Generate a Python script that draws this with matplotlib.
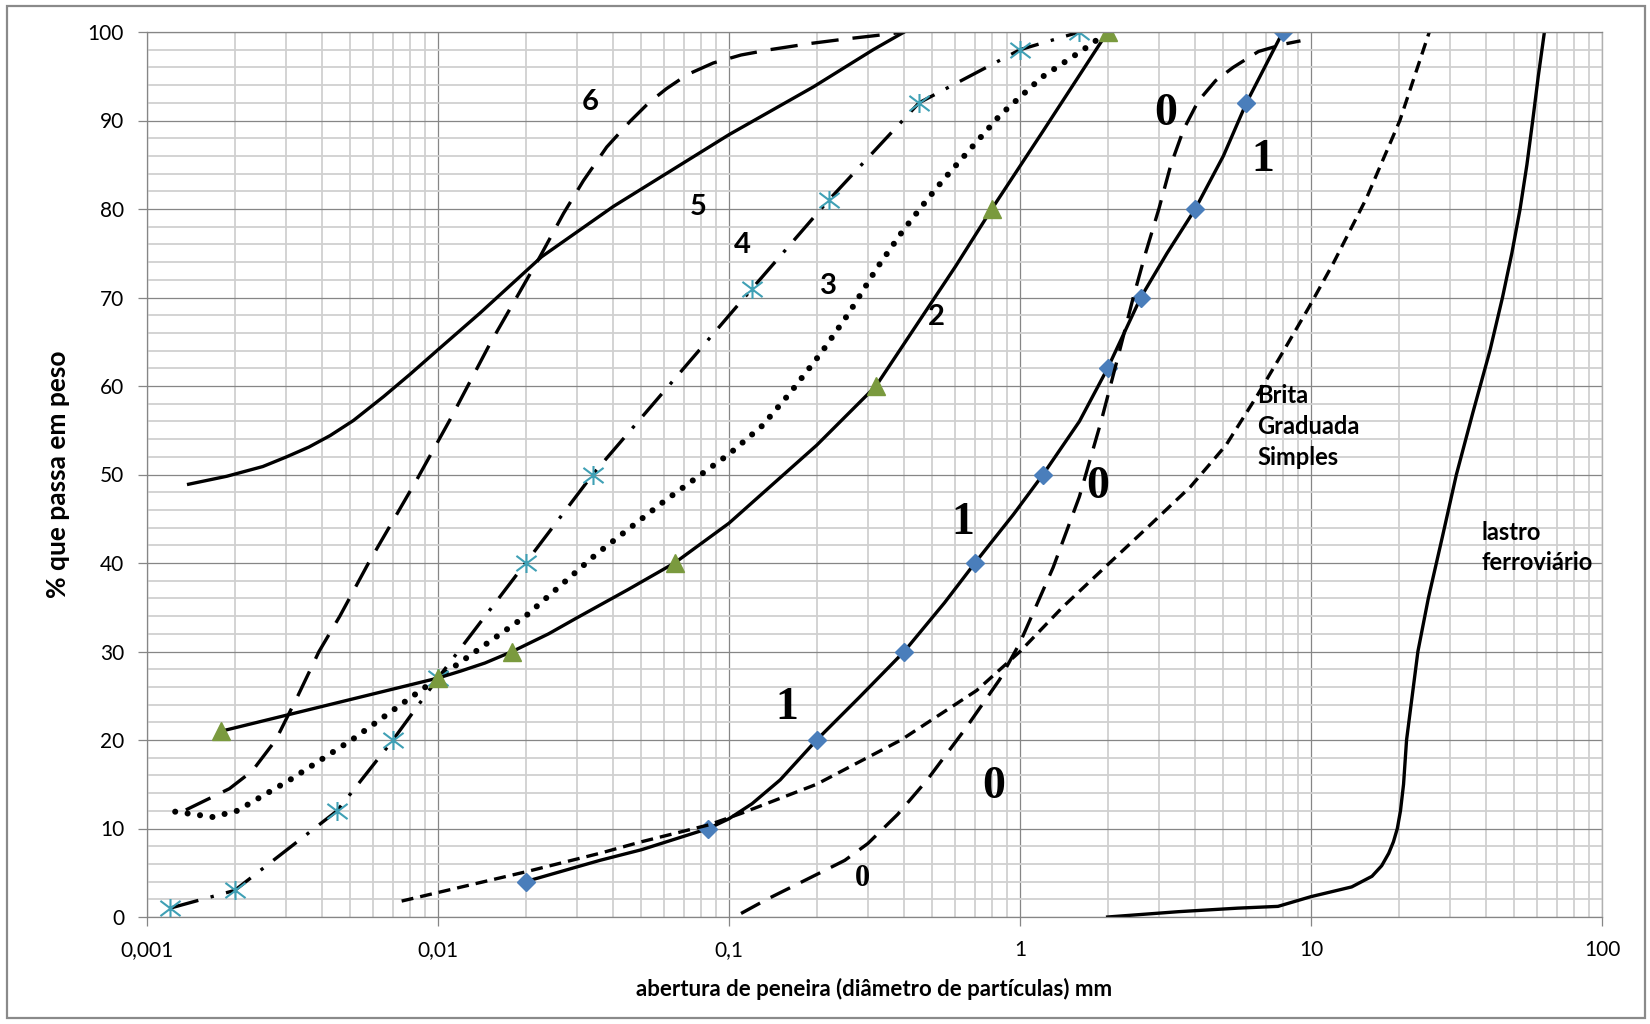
import numpy as np
import matplotlib.pyplot as plt
from matplotlib.path import Path
from matplotlib.patches import Rectangle
from matplotlib.ticker import FixedLocator, LogLocator, MultipleLocator, NullFormatter

plt.rcParams['font.family'] = ['Lato', 'DejaVu Sans']

#%% data (diameter mm, % passing)
# curve 6 - long dashes
c6_x = [0.00136, 0.00192, 0.0023, 0.00277, 0.0033, 0.0039, 0.0046, 0.00577, 0.00845,
        0.011, 0.0151, 0.0224, 0.027, 0.0316, 0.038, 0.0457, 0.053, 0.061, 0.072,
        0.0883, 0.11, 0.138, 0.19, 0.25, 0.32, 0.40]
c6_y = [12.1, 14.5, 16.5, 20.0, 25.0, 30.0, 34.0, 40.0, 49.4, 56.2, 64.8, 74.6, 79.5,
        83.2, 87.0, 89.9, 92.0, 93.6, 95.2, 96.5, 97.4, 98.0, 98.7, 99.2, 99.6, 100]

# curve 5 - solid
c5_x = [0.00139, 0.00188, 0.0025, 0.00302, 0.0036, 0.00426, 0.00512, 0.0065, 0.008,
        0.01, 0.0139, 0.0227, 0.0401, 0.1, 0.195, 0.313, 0.40]
c5_y = [48.9, 49.8, 50.9, 52.0, 53.1, 54.4, 56.1, 58.8, 61.3, 64.1, 68.2, 74.6, 80.3,
        88.4, 93.8, 98.0, 100]

# curve 4 - dash dot with asterisks
c4_x = [0.0012, 0.002, 0.0045, 0.007, 0.01, 0.02, 0.034, 0.12, 0.22, 0.45, 1.0, 1.6]
c4_y = [1, 3, 12, 20, 27, 40, 50, 71, 81, 92, 98, 100]

# curve 3 - dotted
c3_x = [0.00125, 0.00168, 0.00204, 0.0031, 0.0051, 0.0076, 0.01, 0.02, 0.035, 0.06,
        0.1, 0.13, 0.162, 0.208, 0.259, 0.322, 0.397, 0.478, 0.545, 0.854, 1.19, 1.65,
        1.91]
c3_y = [11.9, 11.3, 12.0, 15.5, 20.1, 24.2, 27.0, 34.0, 41.0, 47.0, 52.3, 55.5, 59.2,
        63.8, 68.3, 73.3, 77.6, 81.0, 83.3, 90.6, 94.9, 98.0, 99.5]

# curve 2 - solid, triangles
c2_x = [0.0018, 0.01, 0.012, 0.0145, 0.018, 0.024, 0.03, 0.045, 0.065, 0.1, 0.2,
        0.32, 0.46, 0.6, 0.8, 1.2, 2.0]
c2_y = [21, 27, 27.8, 28.7, 30, 32, 33.8, 37, 40, 44.5, 53.3, 60, 67.8, 73.5, 80,
        88.8, 100]
c2_mx = [0.0018, 0.01, 0.018, 0.065, 0.32, 0.8, 2.0]
c2_my = [21, 27, 30, 40, 60, 80, 100]

# curve 1 - solid, diamonds
c1_x = [0.02, 0.036, 0.05, 0.085, 0.1, 0.12, 0.15, 0.2, 0.28, 0.4, 0.55, 0.7, 0.95,
        1.2, 1.6, 2.0, 2.6, 3.2, 4.0, 5.0, 6.0, 8.0]
c1_y = [4, 6.4, 7.6, 10, 11.1, 12.8, 15.5, 20, 24.8, 30, 35.5, 40, 45.5, 50, 56, 62,
        70, 75, 80, 86, 92, 100]
c1_mx = [0.02, 0.085, 0.2, 0.4, 0.7, 1.2, 2.0, 2.6, 4.0, 6.0, 8.0]
c1_my = [4, 10, 20, 30, 40, 50, 62, 70, 80, 92, 100]

# curve 0 - dashed
c0_x = [0.11, 0.135, 0.2, 0.25, 0.3, 0.38, 0.48, 0.65, 0.85, 1.0, 1.3, 1.6, 1.9, 2.2,
        2.45, 2.7, 3.0, 3.3, 3.65, 4.1, 4.7, 5.4, 6.6, 8.0, 9.2]
c0_y = [0.4, 2.0, 4.8, 6.4, 8.3, 11.6, 15.5, 21.3, 26.8, 31, 39.5, 47.5, 56, 64, 70,
        75, 80, 85, 89, 92.2, 94.5, 96, 97.8, 98.6, 99]

# brita graduada simples - short dashes
bgs_x = [0.0075, 0.02, 0.036, 0.05, 0.085, 0.11, 0.2, 0.39, 0.71, 1.0, 1.4, 2.0, 2.8,
         3.85, 5.1, 6.5, 7.8, 9.8, 11.9, 15.5, 20.2, 25.5]
bgs_y = [1.8, 5.1, 7.2, 8.5, 10.4, 11.7, 15, 20, 25.6, 30, 35, 39.8, 44.3, 48.6, 53.3,
         58.8, 63.2, 68.8, 73.8, 81.2, 90, 100]

# lastro ferroviario - solid
lf_x = [2.0, 3.5, 5.6, 7.7, 10, 13.8, 16.2, 17.5, 18.5, 19.2, 19.8, 20.3, 20.8, 21.3,
        23.3, 25.3, 28.3, 31.6, 36.0, 41.2, 45.5, 49.0, 52.3, 55.2, 57.8, 60.4, 63.4]
lf_y = [0, 0.6, 1.0, 1.2, 2.3, 3.4, 4.6, 5.8, 7.2, 8.5, 10, 12, 15, 20, 30, 36, 43,
        50, 57, 64, 70, 75, 80, 85, 90, 95, 100]

xtick_vals = [0.001, 0.01, 0.1, 1, 10, 100]
xtick_labels = ['0,001', '0,01', '0,1', '1', '10', '100']
ytick_vals = list(range(0, 101, 10))

#%% figure
fig = plt.figure(figsize=(16.5, 10.24), dpi=100)
ax = fig.add_axes([147/1650, 1 - 917/1024, 1455/1650, 885/1024])
fig.patches.append(Rectangle((7/1650, 6/1024), 1638/1650, 1012/1024, transform=fig.transFigure,
                             fill=False, edgecolor='#8a8a8a', linewidth=1.6))

ax.set_xscale('log')
ax.set_xlim(0.001, 100)
ax.set_ylim(0, 100)

ax.xaxis.set_major_locator(FixedLocator(xtick_vals))
ax.set_xticklabels(xtick_labels)
ax.xaxis.set_minor_locator(LogLocator(base=10, subs=range(2, 10), numticks=20))
ax.xaxis.set_minor_formatter(NullFormatter())
ax.set_yticks(ytick_vals)
ax.yaxis.set_minor_locator(MultipleLocator(2))

ax.grid(which='minor', color='#d0d0d0', linewidth=1.3)
ax.grid(which='major', color='#868686', linewidth=0.9)
ax.set_axisbelow(True)
ax.tick_params(which='major', direction='out', length=6.5, width=0.9, color='#868686',
               labelsize=15, pad=10)
ax.tick_params(which='minor', length=0)
for s in ['left', 'bottom', 'top']:
    ax.spines[s].set_color('#868686')
    ax.spines[s].set_linewidth(0.9)
ax.spines['right'].set_color('#b0b0b0')
ax.spines['right'].set_linewidth(1.0)

# asterisk marker like excel's
star = Path([(0, -1), (0, 1), (-1.06, -0.8), (1.06, 0.8), (-1.06, 0.8), (1.06, -0.8)],
            [Path.MOVETO, Path.LINETO, Path.MOVETO, Path.LINETO, Path.MOVETO, Path.LINETO])

lw = 2.4
ax.plot(c6_x, c6_y, color='black', lw=lw, dashes=(8.2, 4.2))
ax.plot(c5_x, c5_y, color='black', lw=lw)
ax.plot(c3_x, c3_y, color='black', lw=4.4, dashes=(0.001, 2.05), dash_capstyle='round')
ax.plot(c4_x, c4_y, color='black', lw=lw, dashes=(8.8, 3.8, 1, 3.8))
ax.plot(c4_x, c4_y, ls='none', marker=star, ms=14.5, mew=1.5, mec='#3fa0b5')
ax.plot(c2_x, c2_y, color='black', lw=lw)
ax.plot(c2_mx, c2_my, ls='none', marker='^', ms=13, color='#7a9a3e', mec='#7a9a3e')
ax.plot(c1_x, c1_y, color='black', lw=lw)
ax.plot(c1_mx, c1_my, ls='none', marker='D', ms=9.5, color='#4a7ebb', mec='#4a7ebb')
ax.plot(c0_x, c0_y, color='black', lw=lw, dashes=(6.5, 3.6))
ax.plot(bgs_x, bgs_y, color='black', lw=lw, dashes=(3.6, 2.1))
ax.plot(lf_x, lf_y, color='black', lw=lw)

# curve numbers
for t, x, y in [('6', 0.0333, 92.1), ('5', 0.0785, 80.2), ('4', 0.1107, 75.9),
                ('3', 0.219, 71.3), ('2', 0.518, 67.8)]:
    ax.text(x, y, t, fontsize=21, fontweight='bold', ha='center', va='center')
for t, x, y, fs in [('1', 6.84, 85.5, 33), ('1', 0.637, 44.5, 33), ('1', 0.158, 23.6, 33),
                    ('0', 3.16, 90.7, 33), ('0', 1.85, 48.6, 33), ('0', 0.813, 14.7, 33),
                    ('0', 0.288, 4.4, 22)]:
    ax.text(x, y, t, fontsize=fs, fontweight='bold', family='Liberation Serif',
            ha='center', va='center')

ax.text(6.54, 60.25, 'Brita\nGraduada\nSimples', fontsize=17, fontweight='bold',
        ha='left', va='top', linespacing=1.42)
ax.text(38.6, 44.8, 'lastro\nferroviário', fontsize=17, fontweight='bold',
        ha='left', va='top', linespacing=1.42)

ax.set_xlabel('abertura de peneira (diâmetro de partículas) mm', fontsize=16,
              fontweight='bold')
ax.xaxis.set_label_coords(0.5, -0.0814)
ax.xaxis.label.set_va('center')
ax.set_ylabel('% que passa em peso', fontsize=19, fontweight='bold')
ax.yaxis.set_label_coords(-0.0612, 0.5)
ax.yaxis.label.set_va('center')

fig.savefig('out.png', dpi=100)
